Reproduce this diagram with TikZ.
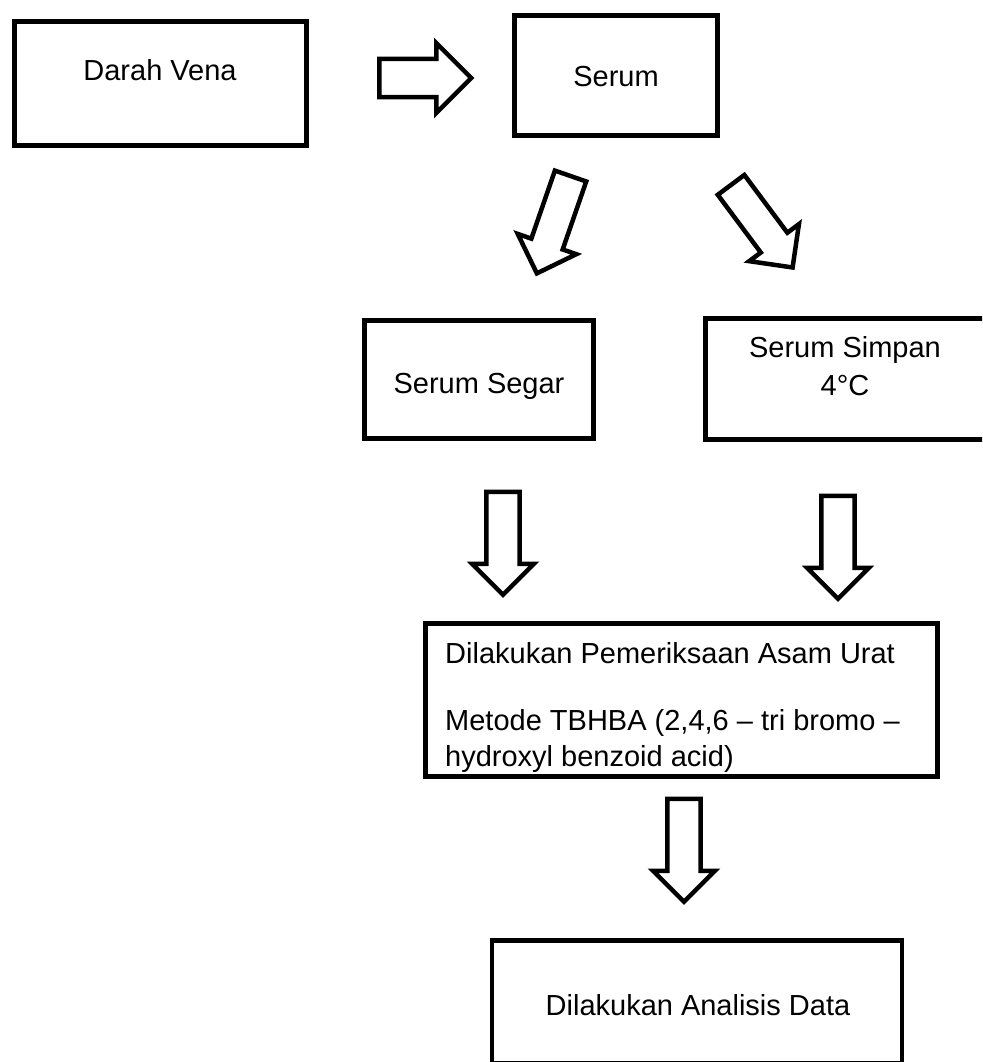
\documentclass[tikz,border=0pt]{standalone}
\usepackage{fontspec}
\setmainfont{Liberation Sans}
\usetikzlibrary{shapes.arrows}

\tikzset{
    box/.style={draw, rectangle, line width=4.5pt, inner sep=0pt},
    blockarrow/.style={draw, single arrow, line width=4.5pt, inner xsep=0pt, inner ysep=9.25pt, anchor=tail,
        minimum height=103pt, minimum width=62pt,
        single arrow head extend=10pt, single arrow tip angle=90},
    lbl/.style={font=\fontsize{29}{36}\selectfont, inner sep=0pt, text height=21pt, text depth=0pt}
}

\begin{document}
\begin{tikzpicture}[x=1pt,y=-1pt]
    \useasboundingbox (0,0) rectangle (982,1062);
    \clip (0,0) rectangle (982,1062);
    % boxes
    \node[box, minimum width=292pt, minimum height=124pt] (vena) at (160.5,83.5) {};
    \node[box, minimum width=203pt, minimum height=120pt] (serum) at (616,75.5) {};
    \node[box, minimum width=229pt, minimum height=118pt] (segar) at (479,379.5) {};
    \node[box, minimum width=290pt, minimum height=121pt] (simpan) at (850.5,379) {}; % open to the right
    \node[box, minimum width=512pt, minimum height=153pt] (periksa) at (681.5,700) {};
    \node[box, minimum width=410pt, minimum height=122.5pt] (analisis) at (697,1001.75) {};
    % texts
    \node[lbl] (venatxt) at (160,70) {Darah Vena};
    \node[lbl] (serumtxt) at (616,76) {Serum};
    \node[lbl] (segartxt) at (479,383) {Serum Segar};
    \node[lbl] (simpantxt) at (845,347) {Serum Simpan};
    \node[lbl] (suhutxt) at (845,385) {4°C};
    \node[font=\fontsize{29}{36}\selectfont, inner sep=0pt, align=left, anchor=north west] (periksatxt) at (445,642)
        {Dilakukan Pemeriksaan Asam Urat\\[31pt]Metode TBHBA (2,4,6 – tri bromo –\\hydroxyl benzoid acid)};
    \node[lbl] (analisistxt) at (698,1005) {Dilakukan Analisis Data};
    % block arrows
    \node[blockarrow, minimum height=92pt, minimum width=70pt, inner ysep=9.75pt] (a1) at (377,78) {};
    \node[blockarrow, rotate=-109.1] (a2) at (571.3,173.9) {};
    \node[blockarrow, rotate=-53.3] (a3) at (729.7,183.1) {};
    \node[blockarrow, rotate=-90] (a4) at (503,489.5) {};
    \node[blockarrow, rotate=-90] (a5) at (838,493.5) {};
    \node[blockarrow, rotate=-90] (a6) at (684,796.5) {};
\end{tikzpicture}
\end{document}
